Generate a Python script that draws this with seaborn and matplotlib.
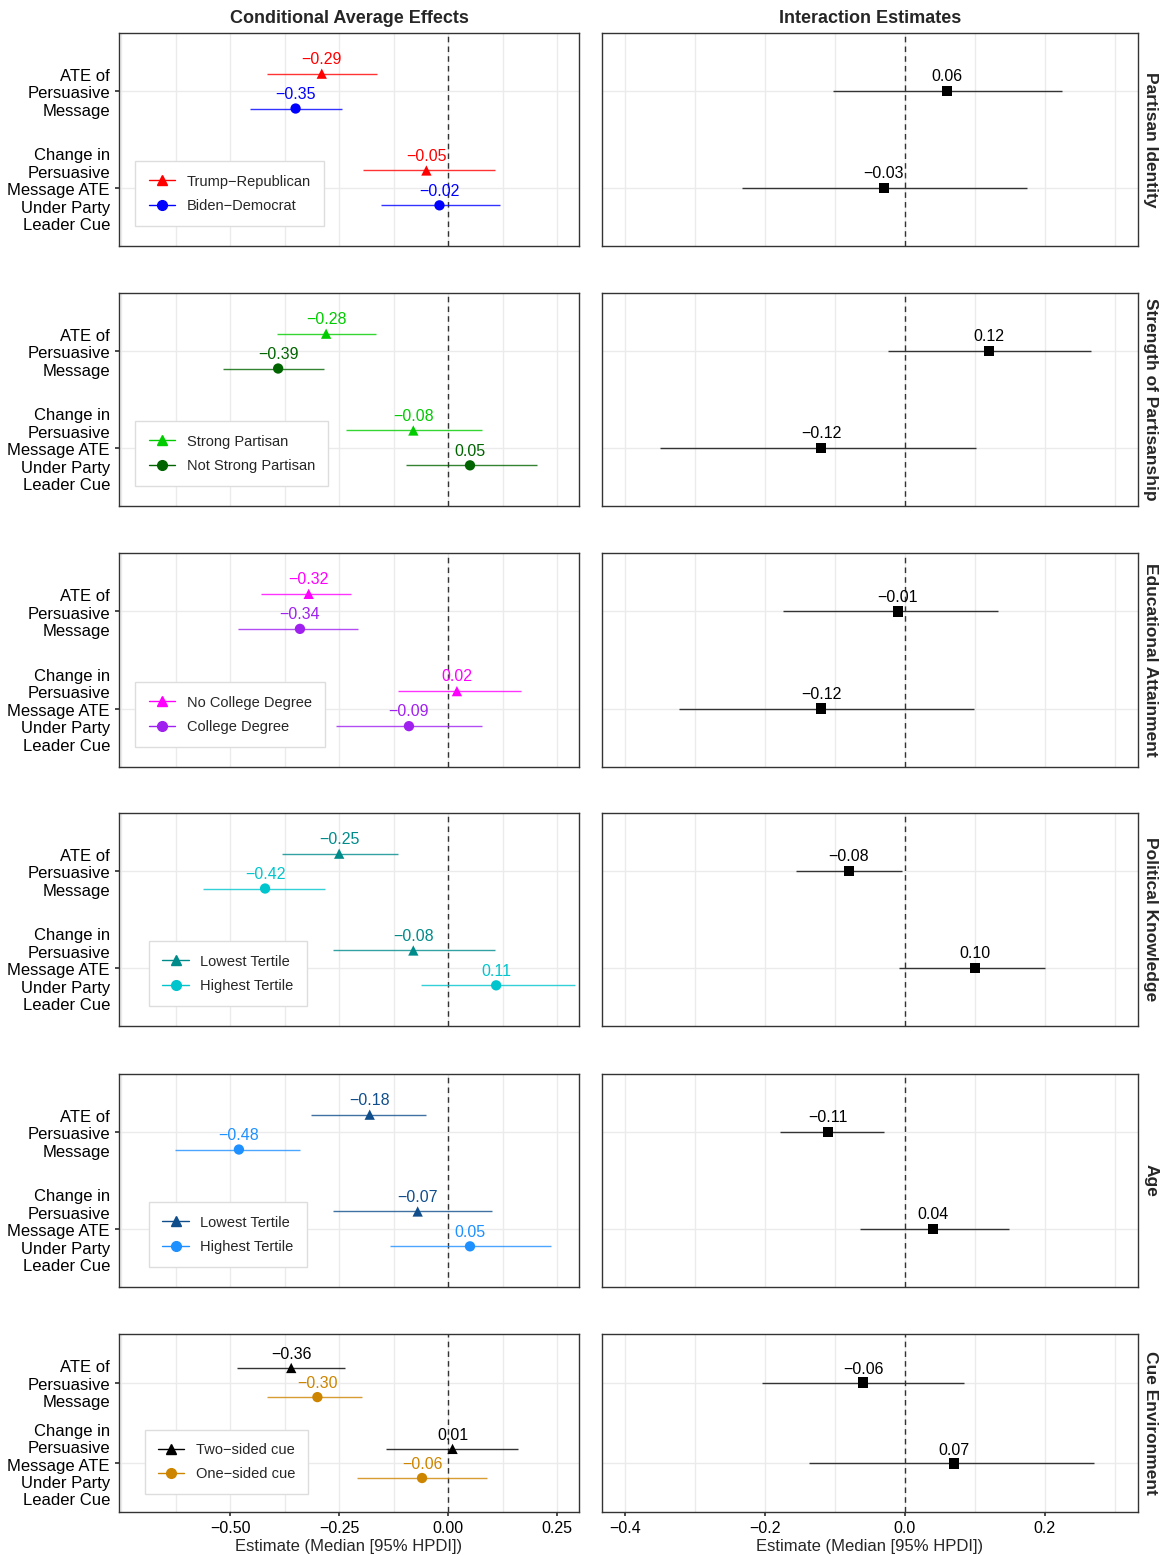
import matplotlib
matplotlib.use("Agg")
import matplotlib.pyplot as plt
import seaborn as sns
import numpy as np
import pandas as pd
from matplotlib.ticker import MultipleLocator
from matplotlib.lines import Line2D

sns.set_theme(style="whitegrid")
plt.rcParams['font.family'] = ['Liberation Sans', 'DejaVu Sans']

facets = ["Partisan Identity", "Strength of Partisanship", "Educational Attainment",
          "Political Knowledge", "Age", "Cue Environment"]
group1 = ["Trump\u2212Republican", "Strong Partisan", "No College Degree", "Lowest Tertile", "Lowest Tertile", "Two\u2212sided cue"]
group2 = ["Biden\u2212Democrat", "Not Strong Partisan", "College Degree", "Highest Tertile", "Highest Tertile", "One\u2212sided cue"]
color1 = ["#FF0000", "#00CC00", "#FF00FF", "#008B8B", "#104E8B", "#000000"]
color2 = ["#0000FF", "#006400", "#A020F0", "#00C5CD", "#1E90FF", "#CD8500"]

# [ATE, change] for each group: median, low, high
g1_med = [[-0.29, -0.05], [-0.28, -0.08], [-0.32, 0.02], [-0.25, -0.08], [-0.18, -0.07], [-0.36, 0.01]]
g1_lo = [[-0.415, -0.195], [-0.392, -0.234], [-0.429, -0.115], [-0.381, -0.264], [-0.314, -0.264], [-0.484, -0.142]]
g1_hi = [[-0.163, 0.108], [-0.165, 0.078], [-0.222, 0.167], [-0.115, 0.108], [-0.050, 0.101], [-0.236, 0.161]]
g2_med = [[-0.35, -0.02], [-0.39, 0.05], [-0.34, -0.09], [-0.42, 0.11], [-0.48, 0.05], [-0.30, -0.06]]
g2_lo = [[-0.454, -0.154], [-0.516, -0.096], [-0.482, -0.257], [-0.562, -0.062], [-0.626, -0.133], [-0.415, -0.209]]
g2_hi = [[-0.243, 0.119], [-0.284, 0.204], [-0.206, 0.078], [-0.282, 0.291], [-0.339, 0.236], [-0.197, 0.089]]
int_med = [[0.06, -0.03], [0.12, -0.12], [-0.01, -0.12], [-0.08, 0.10], [-0.11, 0.04], [-0.06, 0.07]]
int_lo = [[-0.103, -0.233], [-0.024, -0.350], [-0.174, -0.323], [-0.156, -0.009], [-0.179, -0.064], [-0.204, -0.137]]
int_hi = [[0.224, 0.174], [0.266, 0.101], [0.133, 0.099], [-0.004, 0.200], [-0.030, 0.149], [0.084, 0.270]]
categories = ["ATE of\nPersuasive\nMessage", "Change in\nPersuasive\nMessage ATE\nUnder Party\nLeader Cue"]

W, H = 1166, 1555
fig = plt.figure(figsize=(W/100, H/100), dpi=100)
tops = [33, 293, 553, 813, 1074, 1334]
bots = [246, 506, 767, 1026, 1287, 1512]
legx = [0.02, 0.02, 0.02, 0.05, 0.05, 0.04]
ypos = [2, 1]
off = 0.18

def style(ax):
    ax.set_facecolor("white")
    for s in ax.spines.values():
        s.set_color("#333333"); s.set_linewidth(1.0)
    ax.grid(True, which="both", axis="x", color="#EBEBEB", linewidth=1.0)
    ax.grid(True, which="major", axis="y", color="#EBEBEB", linewidth=1.0)
    ax.tick_params(axis="both", length=3, color="#333333", labelsize=11.5, labelcolor="black", left=True, bottom=True)
    ax.axvline(0, color="#333333", ls=(0, (4, 3)), lw=1.0, zorder=1)
    ax.set_ylim(0.4, 2.6)
    ax.set_yticks(ypos)

for i in range(6):
    b = 1 - bots[i]/H; h = (bots[i]-tops[i])/H
    axL = fig.add_axes([119/W, b, 460/W, h])
    axR = fig.add_axes([602/W, b, 536/W, h])
    for ax in (axL, axR):
        style(ax)
    axL.set_xlim(-0.755, 0.30)
    axL.xaxis.set_major_locator(MultipleLocator(0.25)); axL.xaxis.set_minor_locator(MultipleLocator(0.125))
    axR.set_xlim(-0.433, 0.333)
    axR.xaxis.set_major_locator(MultipleLocator(0.2)); axR.xaxis.set_minor_locator(MultipleLocator(0.1))
    axL.set_yticklabels(categories, fontsize=12)
    axR.set_yticklabels([])
    axR.tick_params(axis="y", length=0)

    rows = []
    for j in range(2):
        rows.append(dict(g=group1[i], y=ypos[j]+off, m=g1_med[i][j], lo=g1_lo[i][j], hi=g1_hi[i][j]))
        rows.append(dict(g=group2[i], y=ypos[j]-off, m=g2_med[i][j], lo=g2_lo[i][j], hi=g2_hi[i][j]))
    df = pd.DataFrame(rows)
    pal = {group1[i]: color1[i], group2[i]: color2[i]}
    for _, r in df.iterrows():
        axL.hlines(r.y, r.lo, r.hi, color=pal[r.g], lw=1.0, alpha=0.8, zorder=2)
        axL.text(r.m, r.y + 0.07, f"{r.m:.2f}".replace("-", "\u2212"), color=pal[r.g],
                 ha="center", va="bottom", fontsize=11.5, zorder=4)
    sns.scatterplot(data=df, x="m", y="y", hue="g", style="g", palette=pal,
                    markers={group1[i]: "^", group2[i]: "o"}, s=55, edgecolor="none",
                    ax=axL, legend=False, zorder=3)
    handles = [Line2D([0], [0], color=color1[i], marker="^", markersize=7, lw=1, label=group1[i]),
               Line2D([0], [0], color=color2[i], marker="o", markersize=7, lw=1, label=group2[i])]
    leg = axL.legend(handles=handles, loc="lower left", bbox_to_anchor=(legx[i], 0.06), fontsize=10.5,
                     frameon=True, fancybox=False, framealpha=1, handlelength=1.8,
                     borderpad=0.9, labelspacing=0.7)
    leg.get_frame().set_edgecolor("#DDDDDD")

    dfi = pd.DataFrame(dict(y=ypos, m=int_med[i], lo=int_lo[i], hi=int_hi[i]))
    axR.hlines(dfi.y, dfi.lo, dfi.hi, color="#333333", lw=1.0, zorder=2)
    sns.scatterplot(data=dfi, x="m", y="y", marker="s", color="black", s=55, edgecolor="none", ax=axR, zorder=3)
    for _, r in dfi.iterrows():
        axR.text(r.m, r.y + 0.07, f"{r.m:.2f}".replace("-", "\u2212"), color="black",
                 ha="center", va="bottom", fontsize=11.5, zorder=4)
    axR.text(1.01, 0.5, facets[i], transform=axR.transAxes, rotation=270, ha="left", va="center",
             fontsize=12.5, fontweight="bold")
    for ax in (axL, axR):
        ax.set_ylabel("")
        if i < 5:
            ax.set_xlabel(""); ax.set_xticklabels([]); ax.tick_params(axis="x", length=0)
        else:
            ax.set_xlabel("Estimate (Median [95% HPDI])", fontsize=12, labelpad=2)
    if i == 5:
        axL.set_xticks([-0.5, -0.25, 0, 0.25]); axL.set_xticklabels(["\u22120.50", "\u22120.25", "0.00", "0.25"])
        axR.set_xticks([-0.4, -0.2, 0, 0.2]); axR.set_xticklabels(["\u22120.4", "\u22120.2", "0.0", "0.2"])
        axL.xaxis.set_minor_locator(MultipleLocator(0.125)); axR.xaxis.set_minor_locator(MultipleLocator(0.1))
    if i == 0:
        axL.set_title("Conditional Average Effects", fontsize=13, fontweight="bold", pad=7)
        axR.set_title("Interaction Estimates", fontsize=13, fontweight="bold", pad=7)

fig.savefig("out.png", dpi=100)
